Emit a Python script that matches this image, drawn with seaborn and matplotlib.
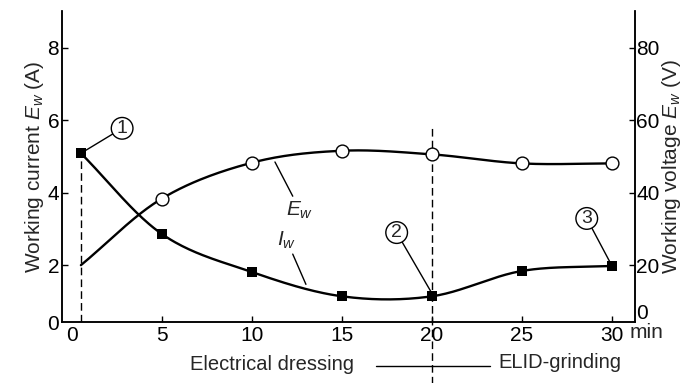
import numpy as np
import pandas as pd
import matplotlib
matplotlib.use("Agg")
import matplotlib.pyplot as plt
import seaborn as sns
from matplotlib.lines import Line2D

# values
time_min = [0.5, 5, 10, 15, 20, 25, 30]
current_a = [5.09, 2.86, 1.81, 1.14, 1.14, 1.84, 1.98]
voltage_v = [20.0, 38.4, 48.3, 51.6, 50.6, 48.1, 48.1]

x_ticks = [0, 5, 10, 15, 20, 25, 30]
i_ticks = [0.43, 2, 4, 6, 8]
i_tick_labels = ["0", "2", "4", "6", "8"]
v_ticks = [7.2, 20, 40, 60, 80]
v_tick_labels = ["0", "20", "40", "60", "80"]

sns.set_theme(style="ticks")
plt.rcParams["font.family"] = ["Liberation Sans", "DejaVu Sans"]
plt.rcParams["mathtext.fontset"] = "custom"
plt.rcParams["mathtext.it"] = "Liberation Sans:italic"
plt.rcParams["mathtext.rm"] = "Liberation Sans"


def catmull_rom(x, y, n=40):
    # smooth drawing path through the measured points
    p = np.column_stack([x, y]).astype(float)
    p = np.vstack([2 * p[0] - p[1], p, 2 * p[-1] - p[-2]])
    t = np.linspace(0, 1, n)[:, None]
    segs = []
    for i in range(1, len(p) - 2):
        p0, p1, p2, p3 = p[i - 1], p[i], p[i + 1], p[i + 2]
        segs.append(0.5 * (2 * p1 + (-p0 + p2) * t
                           + (2 * p0 - 5 * p1 + 4 * p2 - p3) * t ** 2
                           + (-p0 + 3 * p1 - 3 * p2 + p3) * t ** 3))
    s = np.vstack(segs)
    return pd.DataFrame({"x": s[:, 0], "y": s[:, 1]})


fig = plt.figure(figsize=(6.85, 3.83), dpi=100)
ax = fig.add_axes([62 / 685, 1 - 322 / 383, (635 - 62) / 685, (322 - 11) / 383])
ax2 = ax.twinx()

lw = 1.7
cur = catmull_rom(time_min, current_a)
sns.lineplot(data=cur, x="x", y="y", sort=False, estimator=None, color="black", lw=lw, ax=ax)
sns.scatterplot(x=time_min, y=current_a, marker="s", s=55, color="black", edgecolor="black",
                linewidth=0, zorder=5, ax=ax)

vol = catmull_rom(time_min, voltage_v)
sns.lineplot(data=vol, x="x", y="y", sort=False, estimator=None, color="black", lw=lw, ax=ax2)
sns.scatterplot(x=time_min[1:], y=voltage_v[1:], marker="o", s=85, color="white", edgecolor="black",
                linewidth=1.0, zorder=5, ax=ax2)

ax.set_xlim(-0.55, 31.28)
ax.set_ylim(0.43, 9.02)
ax2.set_ylim(4.3, 90.2)

ax.set_xticks(x_ticks)
ax.set_yticks(i_ticks)
ax.set_yticklabels(i_tick_labels)
ax2.set_yticks(v_ticks)
ax2.set_yticklabels(v_tick_labels)

for a in (ax, ax2):
    a.set_xlabel("")
    a.tick_params(direction="in", length=4, width=1, labelsize=15, pad=2, colors="black")
    for sp in a.spines.values():
        sp.set_linewidth(1.1)
        sp.set_color("black")
    a.spines["top"].set_visible(False)
ax.spines["right"].set_visible(True)
ax2.tick_params(axis="y", pad=1)
ax.tick_params(axis="x", pad=3)
# no tick marks at the axis corners
ax.xaxis.get_major_ticks()[0].tick1line.set_visible(False)
ax.yaxis.get_major_ticks()[0].tick1line.set_visible(False)
ax2.yaxis.get_major_ticks()[0].tick2line.set_visible(False)

ax.set_ylabel("Working current $E_w$ (A)", fontsize=15, labelpad=1)
ax2.set_ylabel("Working voltage $E_w$ (V)", fontsize=15, labelpad=0)

# dashed markers for the start and the process switch
ax.plot([time_min[0], time_min[0]], [0.43, current_a[0]], ls=(0, (5.5, 3)), color="black", lw=1.0)
ax.axvline(20, ymin=-0.2, ymax=0.627, ls=(0, (5.5, 3)), color="black", lw=1.0, clip_on=False)

circ = dict(boxstyle="circle,pad=0.12", fc="white", ec="black", lw=1.0)
arrow = dict(arrowstyle="-", color="black", lw=1.0, shrinkA=0, shrinkB=0)
ax.annotate("1", xy=(time_min[0], current_a[0]), xytext=(2.79, 5.78), fontsize=14,
            ha="center", va="center", bbox=circ, arrowprops=arrow)
ax.annotate("2", xy=(20, current_a[4] + 0.08), xytext=(18.04, 2.90), fontsize=14,
            ha="center", va="center", bbox=circ, arrowprops=arrow)
ax.annotate("3", xy=(30, current_a[6]), xytext=(28.6, 3.29), fontsize=14,
            ha="center", va="center", bbox=circ, arrowprops=arrow)
ax.annotate("$E_w$", xy=(11.28, 4.85), xytext=(12.67, 3.52), fontsize=15,
            ha="center", va="center", arrowprops=arrow)
ax.annotate("$I_w$", xy=(13.0, 1.47), xytext=(11.93, 2.69), fontsize=15,
            ha="center", va="center", arrowprops=arrow)

fig.text(630 / 685, 1 - 332 / 383, "min", fontsize=15, ha="left", va="center")
fig.text(272 / 685, 1 - 364 / 383, "Electrical dressing", fontsize=14.5, ha="center", va="center")
fig.text(560 / 685, 1 - 363 / 383, "ELID-grinding", fontsize=14.5, ha="center", va="center")
fig.add_artist(Line2D([376 / 685, 490 / 685], [1 - 366 / 383, 1 - 366 / 383],
                      transform=fig.transFigure, color="black", lw=1.0))

fig.savefig("out.png", dpi=100)
